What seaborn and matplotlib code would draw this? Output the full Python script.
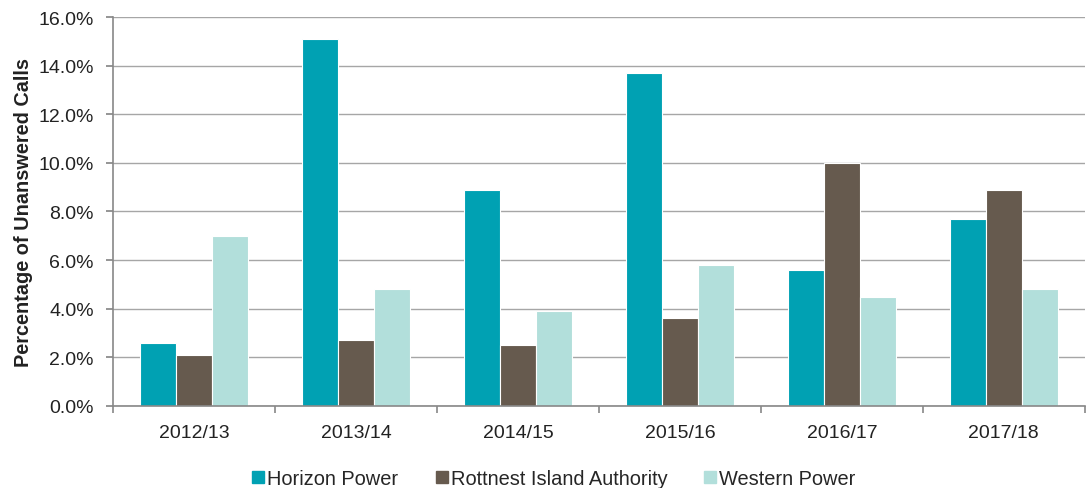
import matplotlib
matplotlib.use("Agg")
import matplotlib.pyplot as plt
import seaborn as sns
import pandas as pd
from matplotlib.ticker import PercentFormatter, FixedLocator
from matplotlib.lines import Line2D

years = ["2012/13", "2013/14", "2014/15", "2015/16", "2016/17", "2017/18"]
horizon = [2.6, 15.1, 8.9, 13.7, 5.6, 7.7]
rottnest = [2.1, 2.7, 2.5, 3.6, 10.0, 8.9]
western = [7.0, 4.8, 3.9, 5.8, 4.5, 4.8]
series_names = ["Horizon Power", "Rottnest Island Authority", "Western Power"]
colors = ["#00A1B3", "#665A4E", "#B2DFDB"]

rows = []
for name, vals in zip(series_names, [horizon, rottnest, western]):
    for y, v in zip(years, vals):
        rows.append({"Year": y, "Series": name, "Value": v})
df = pd.DataFrame(rows)

sns.set_theme(style="white")
plt.rcParams['font.family'] = ['Liberation Sans', 'DejaVu Sans']

fig, ax = plt.subplots(figsize=(10.88, 4.89), dpi=100)
fig.subplots_adjust(left=0.104, right=0.997, top=0.963, bottom=0.168)

sns.barplot(data=df, x="Year", y="Value", hue="Series", palette=colors,
            hue_order=series_names, order=years, width=0.67, saturation=1,
            edgecolor="white", linewidth=0.8, ax=ax, legend=False)

ax.set_ylim(0, 16)
ax.set_xlim(-0.5, 5.5)
ax.set_yticks([0, 2, 4, 6, 8, 10, 12, 14, 16])
ax.yaxis.set_major_formatter(PercentFormatter(decimals=1))
ax.yaxis.grid(True, color="#A6A6A6", linewidth=1.0)
ax.set_axisbelow(True)
for s in ["top", "right"]:
    ax.spines[s].set_visible(False)
for s in ["left", "bottom"]:
    ax.spines[s].set_color("#888888")
    ax.spines[s].set_linewidth(1.2)

ax.tick_params(axis="y", which="major", left=True, length=5, color="#888888",
               labelsize=14, labelcolor="#222222", pad=9)
ax.tick_params(axis="x", which="major", length=0, labelsize=14,
               labelcolor="#222222", pad=13)
ax.xaxis.set_minor_locator(FixedLocator([i - 0.5 for i in range(len(years) + 1)]))
ax.tick_params(axis="x", which="minor", bottom=True, length=5, color="#888888", width=1.2)

ax.set_xlabel("")
ax.set_ylabel("Percentage of Unanswered Calls", fontsize=14.3, fontweight="bold",
              color="#222222", labelpad=4)

handles = [Line2D([0], [0], marker="s", linestyle="none", markersize=9,
                  markerfacecolor=c, markeredgecolor=c) for c in colors]
fig.legend(handles, series_names, loc="lower center", bbox_to_anchor=(0.5083, -0.036),
           ncol=3, frameon=False, fontsize=14.4, handletextpad=0.05,
           columnspacing=1.75, handlelength=0.8)

fig.savefig("out.png", dpi=100)
